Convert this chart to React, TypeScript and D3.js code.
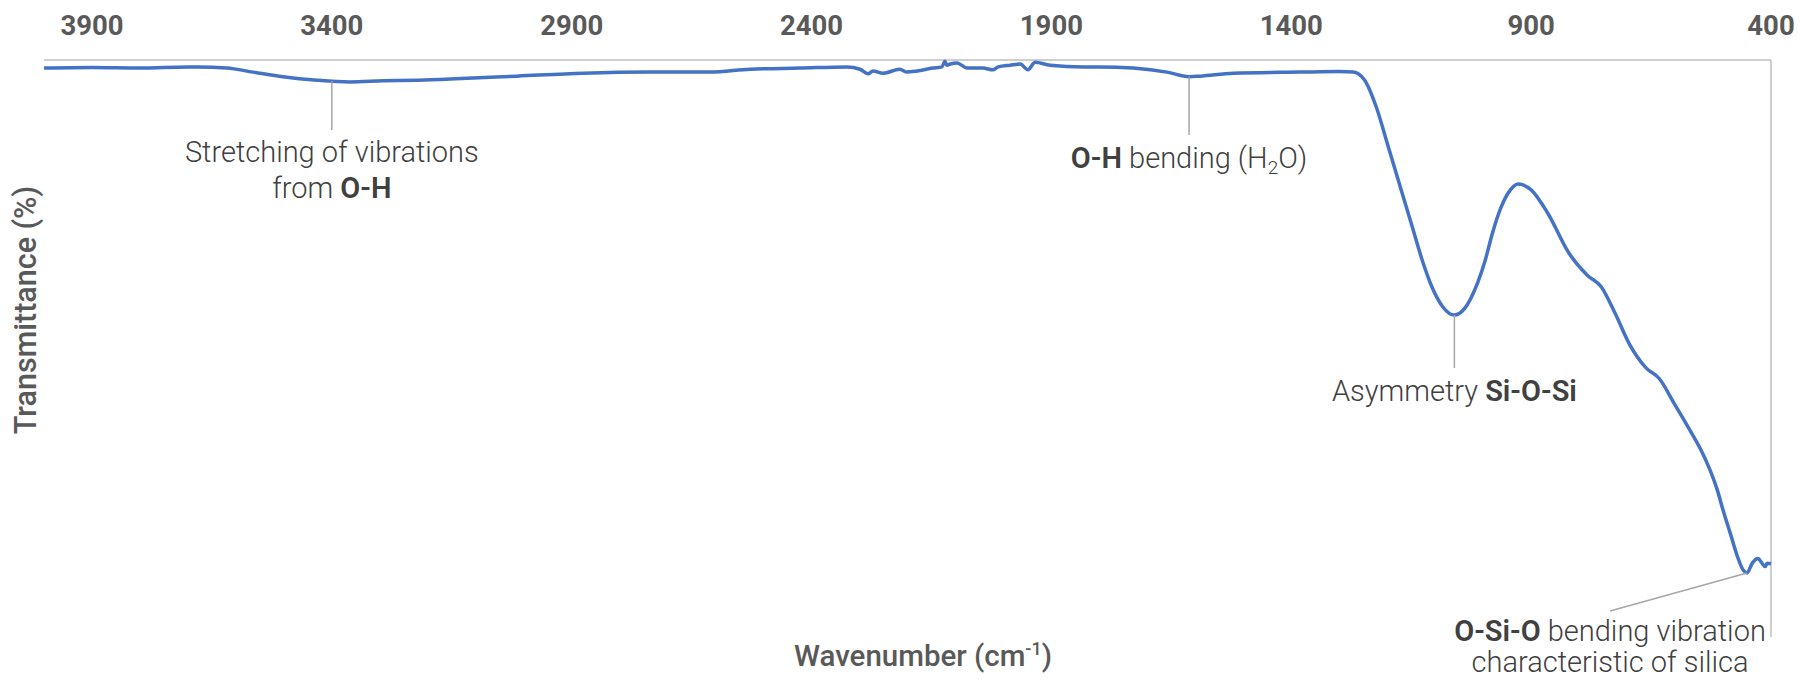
import React from "react";
import * as d3 from "d3";

// FTIR spectrum of a silica sample (transmittance vs. wavenumber)
const wavenumber = [
  4000, 3900, 3800, 3700, 3681, 3619, 3564, 3502, 3431, 3362, 3293, 3222, 3154, 3014,
  2876, 2737, 2612, 2528, 2424, 2326, 2299, 2282, 2272, 2251, 2216, 2201, 2180, 2147,
  2128, 2122, 2118, 2111, 2097, 2076, 2043, 2022, 2011, 1986, 1965, 1949, 1934, 1903,
  1834, 1799, 1730, 1659, 1613, 1590, 1521, 1382, 1300, 1271, 1247, 1223, 1198, 1171,
  1150, 1127, 1107, 1084, 1060, 1040, 1011, 996, 982, 963, 944, 927, 900, 865, 821,
  783, 754, 725, 696, 660, 633, 602, 573, 546, 533, 512, 500, 485, 471, 458, 450, 439,
  427, 419, 412, 408, 400,
];
const transmittance = [
  98.6, 98.7, 98.6, 98.8, 98.8, 98.6, 97.9, 97.1, 96.5, 96.2, 96.4, 96.5, 96.7, 97.2,
  97.7, 97.9, 97.9, 98.4, 98.6, 98.8, 98.4, 97.6, 98.1, 97.7, 98.4, 97.9, 98.1, 98.6,
  98.8, 99.8, 99.1, 99.3, 99.5, 98.6, 98.6, 98.3, 98.8, 99.1, 99.3, 98.3, 99.6, 99.1,
  98.8, 98.8, 98.6, 97.9, 97.1, 97.2, 97.7, 97.9, 98.0, 97.9, 96.5, 91.9, 85.0, 77.5,
  71.7, 65.3, 60.7, 57.2, 55.8, 56.8, 61.5, 65.2, 69.6, 74.4, 77.4, 78.5, 77.5, 73.4, 66.5,
  62.7, 60.7, 56.1, 50.9, 46.6, 44.8, 40.5, 36.4, 32.4, 30.1, 25.5, 22.0, 18.0, 14.2, 11.6, 11.1, 12.8,
  13.6, 12.8, 12.2, 12.8, 12.7,
];

const xTicks = [3900, 3400, 2900, 2400, 1900, 1400, 900, 400];

// Band assignments: where each leader touches the spectrum
const bandWavenumber = [3400, 1613, 1060, 450];

const W = 1800;
const H = 680;
const plot = { left: 44, right: 1771, top: 60, bottom: 637 };

const FONT = "Roboto, 'Noto Sans', sans-serif";
const AXIS_GREY = "#595959";
const NOTE = "#404040";
const LEADER = "#A6A6A6";

export default function App() {
  const x = d3.scaleLinear().domain([4000, 400]).range([plot.left, plot.right]);
  const y = d3.scaleLinear().domain([0, 100]).range([plot.bottom, plot.top]);

  const points = wavenumber.map((w, i) => [w, transmittance[i]] as [number, number]);
  const line = d3
    .line<[number, number]>()
    .x((d) => x(d[0]))
    .y((d) => y(d[1]))
    .curve(d3.curveMonotoneX);

  // linear interpolation of the spectrum at a given wavenumber
  const valueAt = (w: number) => {
    for (let i = 0; i < wavenumber.length - 1; i++) {
      const a = wavenumber[i];
      const b = wavenumber[i + 1];
      if (w <= a && w >= b) {
        const t = (a - w) / (a - b);
        return transmittance[i] + t * (transmittance[i + 1] - transmittance[i]);
      }
    }
    return transmittance[transmittance.length - 1];
  };

  const [wOH, wBend, wSiOSi, wOSiO] = bandWavenumber;

  const noteStyle = { fontFamily: FONT, fontWeight: 300, fontSize: 29, fill: NOTE } as const;
  const boldPart = { fontWeight: 600 } as const;

  return (
    <svg
      width={W}
      height={H}
      style={{ position: "absolute", left: 0, top: 0, background: "#fff" }}
    >
      {/* value axis along the top, y axis on the right edge */}
      <line x1={plot.left} x2={plot.right} y1={plot.top} y2={plot.top} stroke="#BFBFBF" strokeWidth={1.5} />
      <line x1={plot.right} x2={plot.right} y1={plot.top} y2={plot.bottom} stroke="#BFBFBF" strokeWidth={1.5} />

      {xTicks.map((t) => (
        <text
          key={t}
          x={x(t)}
          y={35}
          textAnchor="middle"
          fontFamily={FONT}
          fontWeight={700}
          fontSize={27.5}
          fill={AXIS_GREY}
        >
          {t}
        </text>
      ))}

      <path d={line(points) ?? ""} fill="none" stroke="#4472C4" strokeWidth={3.5} strokeLinejoin="round" />

      {/* leader lines */}
      <line x1={x(wOH)} x2={x(wOH)} y1={y(valueAt(wOH))} y2={130} stroke={LEADER} strokeWidth={1.5} />
      <line x1={x(wBend)} x2={x(wBend)} y1={y(valueAt(wBend))} y2={135} stroke={LEADER} strokeWidth={1.5} />
      <line x1={x(wSiOSi)} x2={x(wSiOSi)} y1={y(valueAt(wSiOSi))} y2={368} stroke={LEADER} strokeWidth={1.5} />
      <line x1={x(wOSiO)} x2={1610} y1={y(valueAt(wOSiO))} y2={611} stroke={LEADER} strokeWidth={1.5} />

      {/* band labels */}
      <text {...noteStyle} x={x(wOH)} y={162} textAnchor="middle">
        Stretching of vibrations
      </text>
      <text {...noteStyle} x={x(wOH)} y={198} textAnchor="middle">
        from <tspan {...boldPart}>O-H</tspan>
      </text>

      <text {...noteStyle} x={x(wBend)} y={168} textAnchor="middle">
        <tspan {...boldPart}>O-H</tspan> bending (H
        <tspan fontSize={19} dy={6}>2</tspan>
        <tspan dy={-6}>O)</tspan>
      </text>

      <text {...noteStyle} x={x(wSiOSi)} y={401} textAnchor="middle">
        Asymmetry <tspan {...boldPart}>Si-O-Si</tspan>
      </text>

      <text {...noteStyle} x={1610} y={641} textAnchor="middle">
        <tspan {...boldPart}>O-Si-O</tspan> bending vibration
      </text>
      <text {...noteStyle} x={1610} y={672} textAnchor="middle">
        characteristic of silica
      </text>

      {/* axis titles */}
      <text
        x={923}
        y={666}
        textAnchor="middle"
        fontFamily={FONT}
        fontWeight={500}
        fontSize={29.5}
        fill={AXIS_GREY}
      >
        Wavenumber (cm<tspan fontSize={18} dy={-11}>-1</tspan>
        <tspan dy={11}>)</tspan>
      </text>
      <text
        transform={`translate(36, 310) rotate(-90)`}
        textAnchor="middle"
        fontFamily={FONT}
        fontWeight={500}
        fontSize={30.5}
        fill={AXIS_GREY}
      >
        Transmittance (%)
      </text>
    </svg>
  );
}
